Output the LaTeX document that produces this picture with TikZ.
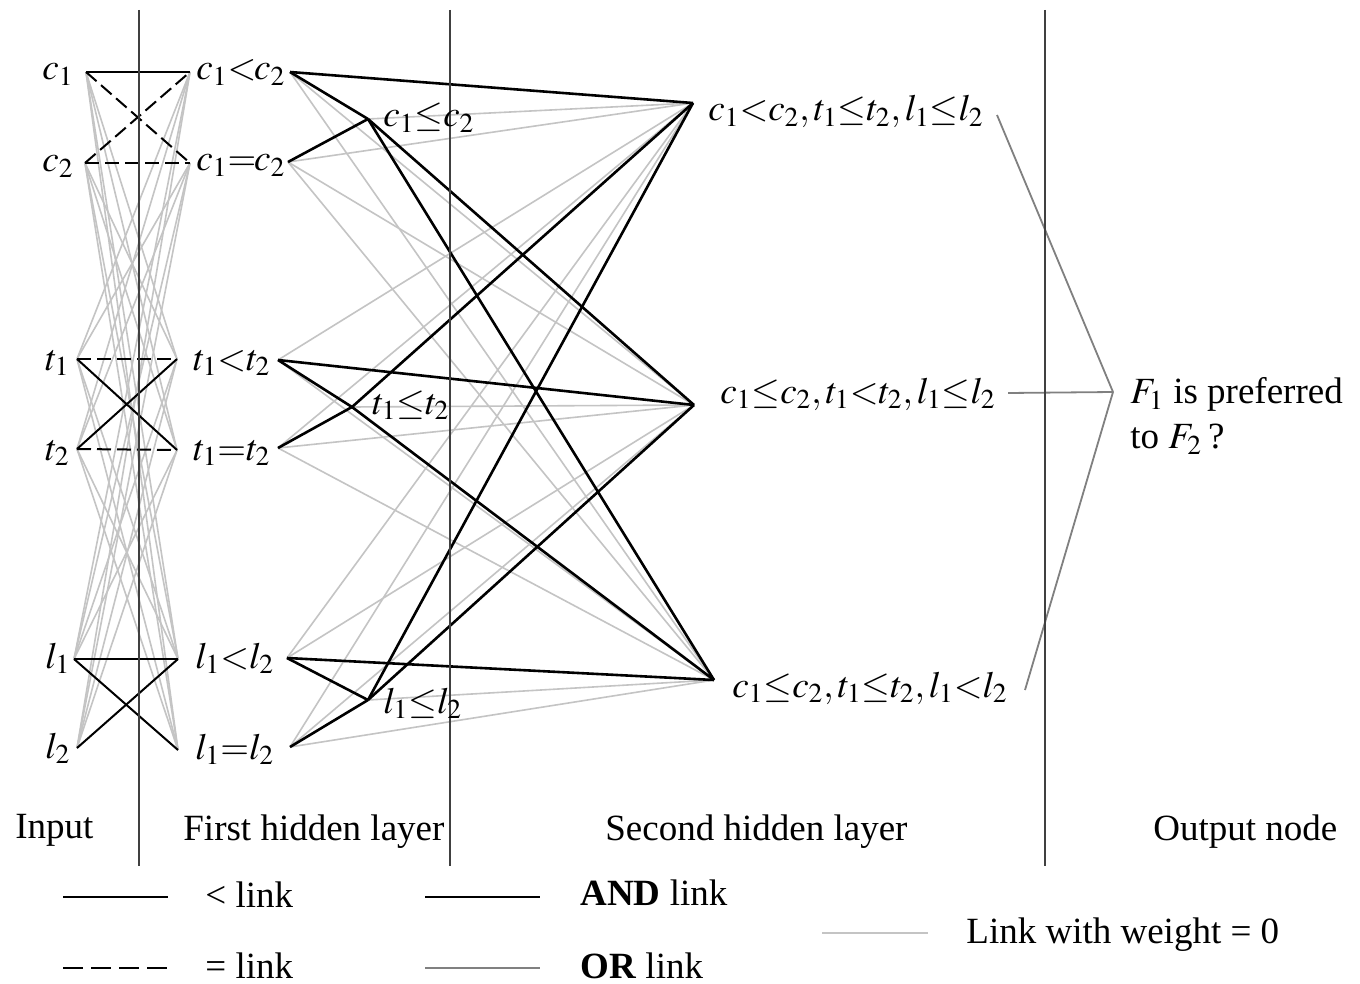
\documentclass[tikz,border=0pt]{standalone}
\usepackage{mathptmx}
\usepackage{fontspec}
\setmainfont{Liberation Serif}
\definecolor{zero}{HTML}{C4C4C4}
\definecolor{orc}{HTML}{808080}
\definecolor{axis}{HTML}{404040}
\tikzset{
 lbl/.style={anchor=base west, inner sep=0pt, font=\fontsize{18.5}{22.5}\selectfont},
 zerolink/.style={draw=zero, line width=0.8pt},
 andlink/.style={draw=black, line width=1.3pt},
 ltlink/.style={draw=black, line width=1pt},
 eqlink/.style={draw=black, line width=1pt, dash pattern=on 7pt off 3pt},
 orlink/.style={draw=orc, line width=0.9pt},
 divider/.style={draw=axis, line width=1.1pt},
}
\begin{document}
\begin{tikzpicture}[x=0.5pt,y=-0.5pt]
\useasboundingbox[fill=white] (0,0) rectangle (1360,984);
% input endpoints
\coordinate (c1) at (86,72);
\coordinate (c2) at (85,163);
\coordinate (t1) at (77,359);
\coordinate (t2) at (77,449);
\coordinate (l1) at (74,659);
\coordinate (l2) at (77,748);
% first hidden layer endpoints
\coordinate (hcl) at (190,72);
\coordinate (hce) at (190,163);
\coordinate (htl) at (177,359);
\coordinate (hte) at (177,450);
\coordinate (hll) at (178,659);
\coordinate (hle) at (178,750);
\coordinate (hclR) at (290,72);
\coordinate (hceR) at (288,162);
\coordinate (htlR) at (278,360);
\coordinate (hteR) at (278,448);
\coordinate (hllR) at (287,658);
\coordinate (hleR) at (290,747);
% OR points
\coordinate (pc) at (368,119);
\coordinate (pt) at (352,407);
\coordinate (pl) at (368,700);
% second hidden layer
\coordinate (sA) at (693,103);
\coordinate (sB) at (694,405);
\coordinate (sC) at (714,680);
\coordinate (sAR) at (997,115);
\coordinate (sBR) at (1008,393);
\coordinate (sCR) at (1025,690);
\coordinate (out) at (1113,392);
% zero-weight links, input -> first hidden
\foreach \a in {c1,c2} \foreach \b in {htl,hte,hll,hle} \draw[zerolink] (\a) -- (\b);
\foreach \a in {t1,t2} \foreach \b in {hcl,hce,hll,hle} \draw[zerolink] (\a) -- (\b);
\foreach \a in {l1,l2} \foreach \b in {hcl,hce,htl,hte} \draw[zerolink] (\a) -- (\b);
% zero-weight links, first -> second hidden
\foreach \a/\b in {hclR/sB, hclR/sC, hceR/sA, hceR/sB, hceR/sC, htlR/sA, htlR/sC, hteR/sA, hteR/sB, hteR/sC, hllR/sA, hllR/sB, hleR/sA, hleR/sB, hleR/sC, pc/sA, pt/sB, pl/sC}
  \draw[zerolink] (\a) -- (\b);
% < and = links
\draw[ltlink] (c1) -- (hcl);
\draw[eqlink] (c1) -- (hce);
\draw[eqlink] (c2) -- (hcl);
\draw[eqlink] (c2) -- (hce);
\draw[eqlink] (t1) -- (htl);
\draw[ltlink] (t1) -- (hte);
\draw[ltlink] (t2) -- (htl);
\draw[eqlink] (t2) -- (hte);
\draw[ltlink] (l1) -- (hll);
\draw[ltlink] (l1) -- (hle);
\draw[ltlink] (l2) -- (hll);
% AND links
\foreach \a/\b in {hclR/sA, hclR/pc, hceR/pc, pc/sB, pc/sC, htlR/sB, htlR/pt, hteR/pt, pt/sA, pt/sC, hllR/sC, hllR/pl, hleR/pl, pl/sA, pl/sB}
  \draw[andlink] (\a) -- (\b);
% OR links to output
\draw[orlink] (sAR) -- (out);
\draw[orlink] (sBR) -- (out);
\draw[orlink] (sCR) -- (out);
% dividers
\coordinate (d1t) at (139,10); \coordinate (d1b) at (139,866);
\coordinate (d2t) at (450,10); \coordinate (d2b) at (450,866);
\coordinate (d3t) at (1045,10); \coordinate (d3b) at (1045,866);
\draw[divider] (d1t) -- (d1b);
\draw[divider] (d2t) -- (d2b);
\draw[divider] (d3t) -- (d3b);
% labels: input
\node[lbl] (Lc1) at (42,80) {$c_1$};
\node[lbl] (Lc2) at (42,172) {$c_2$};
\node[lbl] (Lt1) at (45,370) {$t_1$};
\node[lbl] (Lt2) at (45,460) {$t_2$};
\node[lbl] (Ll1) at (45,668) {$l_1$};
\node[lbl] (Ll2) at (45,758) {$l_2$};
% labels: first hidden
\node[lbl] (Lhcl) at (196,80) {$c_1{<}\mkern-1mu c_2$};
\node[lbl] (Lhce) at (196,171) {$c_1{=}\mkern-1mu c_2$};
\node[lbl] (Lhtl) at (193,370) {$t_1{<}t_2$};
\node[lbl] (Lhte) at (193,460) {$t_1{=}t_2$};
\node[lbl] (Lhll) at (195,668) {$l_1{<}l_2$};
\node[lbl] (Lhle) at (195,759) {$l_1{=}l_2$};
% labels: OR points
\node[lbl] (Lpc) at (383,127) {$c_1{\le}c_2$};
\node[lbl] (Lpt) at (372,414) {$t_1{\le}t_2$};
\node[lbl] (Lpl) at (383,713) {$l_1{\le}l_2$};
% labels: second hidden
\node[lbl] (LA) at (708,121) {$c_1{<}c_2,t_1{\le}t_2,l_1{\le}l_2$};
\node[lbl] (LB) at (720,403) {$c_1{\le}c_2,t_1{<}t_2,l_1{\le}l_2$};
\node[lbl] (LC) at (732,697) {$c_1{\le}c_2,t_1{\le}t_2,l_1{<}l_2$};
% output
\node[lbl, anchor=north west, align=left] (LF) at (1130,377) {$F_1$ is preferred\\to $F_2$\,?};
% layer titles
\node[lbl] (Tin) at (15,838) {Input};
\node[lbl] (Tfh) at (183,840) {First hidden layer};
\node[lbl] (Tsh) at (605,840) {Second hidden layer};
\node[lbl] (Tout) at (1153,840) {Output node};
% legend
\coordinate (g1a) at (63,897); \coordinate (g1b) at (168,897);
\coordinate (g2a) at (63,968); \coordinate (g2b) at (168,968);
\coordinate (g3a) at (425,897); \coordinate (g3b) at (540,897);
\coordinate (g4a) at (425,968); \coordinate (g4b) at (540,968);
\coordinate (g5a) at (822,933); \coordinate (g5b) at (928,933);
\draw[ltlink, line width=1.2pt] (g1a) -- (g1b);
\draw[eqlink, line width=1.2pt, dash pattern=on 10pt off 4pt] (g2a) -- (g2b);
\draw[andlink] (g3a) -- (g3b);
\draw[orlink, line width=1.2pt] (g4a) -- (g4b);
\draw[zerolink, line width=1pt] (g5a) -- (g5b);
\node[lbl] (G1) at (205,907) {< link};
\node[lbl] (G2) at (205,978) {= link};
\node[lbl] (G3) at (580,905) {\textbf{AND} link};
\node[lbl] (G4) at (580,978) {\textbf{OR} link};
\node[lbl] (G5) at (966,943) {Link with weight = 0};
\end{tikzpicture}
\end{document}
